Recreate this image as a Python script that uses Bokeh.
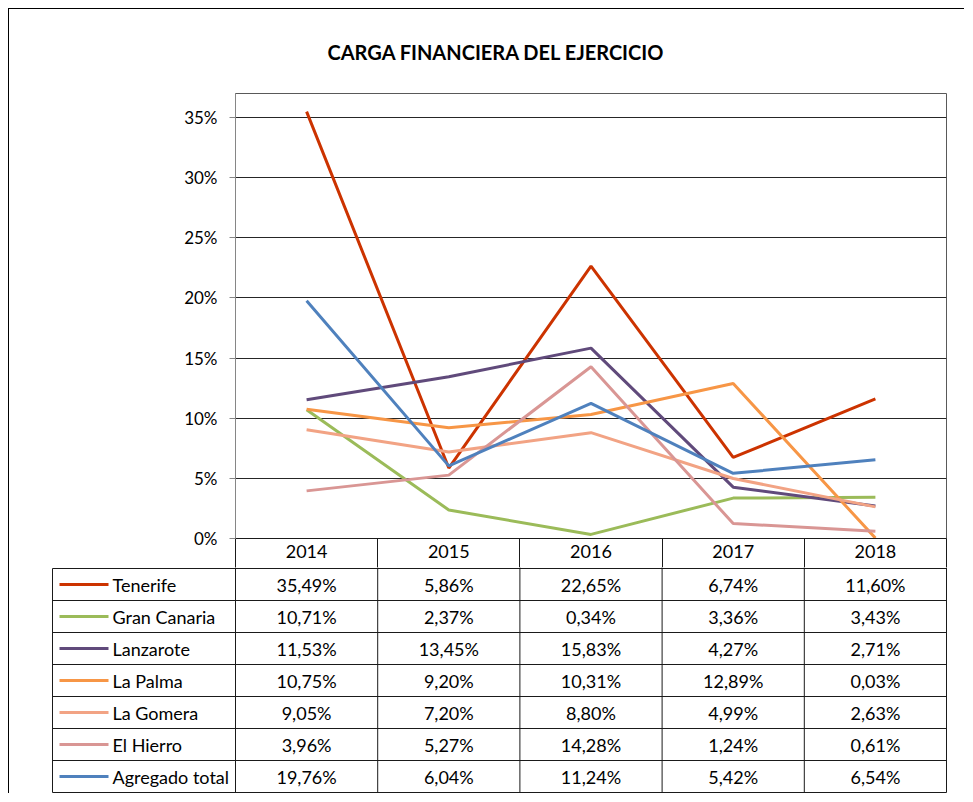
from bokeh.plotting import figure
from bokeh.models import (Range1d, FixedTicker, NumeralTickFormatter,
                          ColumnDataSource, Title)
from bokeh.layouts import column
from bokeh.core.properties import value
from bokeh.embed import file_html
from bokeh.resources import INLINE

# ---------------- data ----------------
title_text = "CARGA FINANCIERA DEL EJERCICIO"
years = [2014, 2015, 2016, 2017, 2018]
series_names = ["Tenerife", "Gran Canaria", "Lanzarote", "La Palma",
                "La Gomera", "El Hierro", "Agregado total"]
tenerife = [35.49, 5.86, 22.65, 6.74, 11.60]
gran_canaria = [10.71, 2.37, 0.34, 3.36, 3.43]
lanzarote = [11.53, 13.45, 15.83, 4.27, 2.71]
la_palma = [10.75, 9.20, 10.31, 12.89, 0.03]
la_gomera = [9.05, 7.20, 8.80, 4.99, 2.63]
el_hierro = [3.96, 5.27, 14.28, 1.24, 0.61]
agregado_total = [19.76, 6.04, 11.24, 5.42, 6.54]
y_ticks = [0, 0.05, 0.10, 0.15, 0.20, 0.25, 0.30, 0.35]

series_values = [tenerife, gran_canaria, lanzarote, la_palma,
                 la_gomera, el_hierro, agregado_total]
colors = ["#CC3300", "#9BBB59", "#604A7B", "#F79646",
          "#F2A384", "#D99694", "#4F81BD"]

FONT = "Lato"
FS = "18px"

# ---------------- chart (with header row as x axis) ----------------
pA = figure(width=955, height=558,
            x_range=Range1d(years[0] - 0.5, years[-1] + 0.5),
            y_range=Range1d(0, 0.37),
            output_backend="svg", toolbar_location=None,
            min_border_left=226, min_border_right=18,
            min_border_top=84, min_border_bottom=29,
            frame_align=False)
pA.outline_line_color = "#595959"
pA.background_fill_color = "white"
pA.border_fill_color = "white"

pA.add_layout(Title(text=title_text, text_font=FONT, text_font_size="20px",
                    text_font_style="bold", text_color="#000000",
                    align="left", offset=92, vertical_align="middle",
                    standoff=58), "above")

src = ColumnDataSource(dict(year=years,
                            **{f"s{i}": [v / 100 for v in vals]
                               for i, vals in enumerate(series_values)}))
for i, c in enumerate(colors):
    pA.line(x="year", y=f"s{i}", source=src, line_width=3, line_color=c)

bounds = [y - 0.5 for y in years] + [years[-1] + 0.5]

pA.yaxis.ticker = FixedTicker(ticks=y_ticks)
pA.yaxis.formatter = NumeralTickFormatter(format="0%")
pA.yaxis.major_label_text_font = FONT
pA.yaxis.major_label_text_font_size = "17px"
pA.yaxis.major_label_text_color = "#000000"
pA.yaxis.major_tick_out = 6
pA.yaxis.major_tick_in = 0
pA.yaxis.minor_tick_line_color = None
pA.yaxis.major_tick_line_color = "#868686"
pA.yaxis.axis_line_color = "#868686"
pA.yaxis.major_label_standoff = 12

xax = pA.below[0]
xax.ticker = FixedTicker(ticks=years, minor_ticks=bounds)
xax.major_label_overrides = {y: str(y) for y in years}
xax.major_tick_out = 0
xax.major_tick_in = 0
xax.major_tick_line_color = None
xax.minor_tick_out = 30
xax.minor_tick_in = 0
xax.minor_tick_line_color = "#1a1a1a"
xax.axis_line_color = "#1a1a1a"
xax.major_label_text_font = FONT
xax.major_label_text_font_size = FS
xax.major_label_text_color = "#000000"
xax.major_label_standoff = -24

pA.xgrid.visible = False
pA.ygrid.ticker = FixedTicker(ticks=y_ticks)
pA.ygrid.grid_line_color = "#262626"
pA.ygrid.grid_line_width = 1

# ---------------- data table body ----------------
colw = 711 / 5
x_start = years[0] - 0.5 - 184 / colw
x_end = years[-1] + 0.5 + 1 / colw
top = -1 / 32
hB = 226
nrows = len(series_names)
pB = figure(width=955, height=hB,
            x_range=Range1d(x_start, x_end),
            y_range=Range1d(top + hB / 32, top),
            output_backend="svg", toolbar_location=None,
            x_axis_location=None, y_axis_location=None,
            min_border_left=42, min_border_right=17,
            min_border_top=0, min_border_bottom=0,
            frame_align=False)
pB.outline_line_color = None
pB.xgrid.visible = False
pB.ygrid.visible = False
pB.background_fill_color = "white"
pB.border_fill_color = "white"

x_left = x_start + 1 / colw
line_c = "#1a1a1a"
pB.segment(x0=[x_left] * (nrows + 1), x1=[bounds[-1]] * (nrows + 1),
           y0=list(range(nrows + 1)), y1=list(range(nrows + 1)),
           line_color=line_c, line_width=1)
pB.segment(x0=bounds, x1=bounds, y0=[top - 0.1] * len(bounds),
           y1=[nrows] * len(bounds), line_color=line_c, line_width=1)
pB.segment(x0=[x_left], x1=[x_left], y0=[0], y1=[nrows],
           line_color=line_c, line_width=1)

def pct(v):
    return f"{v:.2f}".replace(".", ",") + "%"

cx, cy, ct = [], [], []
for r, vals in enumerate(series_values):
    for yv, v in zip(years, vals):
        cx.append(yv)
        cy.append(r + 0.5)
        ct.append(pct(v))
pB.text(x=cx, y=cy, text=ct, text_font=value(FONT), text_font_size=FS,
        text_align="center", text_baseline="middle", text_color="#000000")

def px(p):
    return x_start + (p - 51) / colw

rows_mid = [r + 0.5 for r in range(nrows)]
pB.segment(x0=[px(59)] * nrows, x1=[px(108)] * nrows, y0=rows_mid, y1=rows_mid,
           line_color=colors, line_width=3)
pB.text(x=[px(112)] * nrows, y=rows_mid, text=series_names,
        text_font=value(FONT), text_font_size=FS, text_align="left",
        text_baseline="middle", text_color="#000000")

layout = column(pA, pB, spacing=0, margin=(8, 0, 0, 8),
                styles={"border-left": "1px solid #000000",
                        "border-top": "1px solid #000000"})

open("out.html", "w").write(file_html(layout, INLINE, title="Carga financiera"))
